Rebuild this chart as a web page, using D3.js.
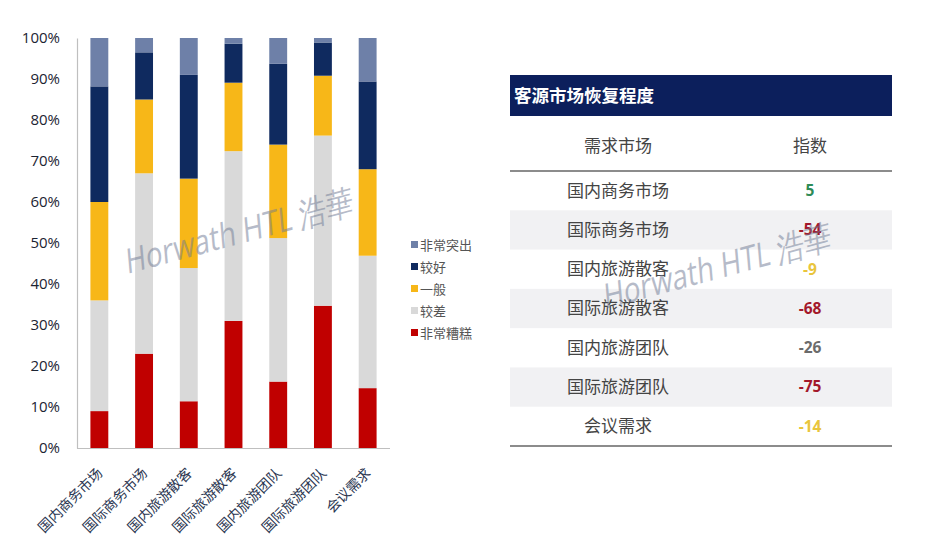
<!DOCTYPE html>
<html><head><meta charset="utf-8">
<script src="https://cdn.jsdelivr.net/npm/d3@7"></script>
<style>body{margin:0;background:#fff;}svg{display:block;}</style>
</head><body>
<script>
const categories = ["国内商务市场","国际商务市场","国内旅游散客","国际旅游散客","国内旅游团队","国际旅游团队","会议需求"];
const seriesNames = ["非常糟糕","较差","一般","较好","非常突出"];
const verybad   = [9, 23, 11.4, 31, 16.2, 34.7, 14.6];
const bad       = [27, 44, 32.5, 41.4, 35, 41.5, 32.3];
const average   = [24, 18, 21.8, 16.7, 22.8, 14.6, 21.1];
const good      = [28.2, 11.5, 25.3, 9.5, 19.7, 8.1, 21.4];
const excellent = [11.8, 3.5, 9, 1.4, 6.3, 1.1, 10.6];
const yTicks = [0,10,20,30,40,50,60,70,80,90,100];
const tableTitle = "客源市场恢复程度";
const tableHeaders = ["需求市场","指数"];
const tableMarkets = ["国内商务市场","国际商务市场","国内旅游散客","国际旅游散客","国内旅游团队","国际旅游团队","会议需求"];
const tableIndex = [5, -54, -9, -68, -26, -75, -14];
const watermarkText = "Horwath HTL 浩華";

const colors = ["#c00000","#d9d9d9","#f7b718","#0f2a5f","#6e80a8"];
const indexColor = v => v > 0 ? "#2e8b57" : (v <= -50 ? "#a3182a" : (v <= -20 ? "#6b6b6b" : "#e9c53c"));

const W = 934, H = 556;
const svg = d3.select("body").append("svg").attr("width", W).attr("height", H);

// ---- bar chart ----
const x = d3.scaleBand().domain(categories).range([77, 390]).paddingInner(0.6).paddingOuter(0.3);
const y = d3.scaleLinear().domain([0,100]).range([448, 38]);

const rows = categories.map((c,i)=>({cat:c, "非常糟糕":verybad[i], "较差":bad[i], "一般":average[i], "较好":good[i], "非常突出":excellent[i]}));
const stack = d3.stack().keys(seriesNames)(rows);

svg.append("g").selectAll("g").data(stack).join("g")
  .attr("fill",(d,i)=>colors[i])
  .selectAll("rect").data(d=>d).join("rect")
  .attr("x", d=>x(d.data.cat))
  .attr("width", x.bandwidth())
  .attr("y", d=>y(Math.min(100,d[1])))
  .attr("height", d=>y(d[0]) - y(Math.min(100,d[1])));

// axes
const yAxis = svg.append("g").attr("transform","translate(77,0)")
  .call(d3.axisLeft(y).tickValues(yTicks).tickFormat(d=>d+"%").tickSize(0).tickPadding(17));
yAxis.select(".domain").attr("stroke","#bfbfbf").attr("stroke-width",1.2);
yAxis.selectAll("text").attr("font-family","'Open Sans', sans-serif").attr("font-size",15).attr("fill","#1c2433");

const xAxis = svg.append("g").attr("transform","translate(0,448)")
  .call(d3.axisBottom(x).tickSize(0).tickSizeOuter(0));
xAxis.select(".domain").attr("stroke","#bfbfbf").attr("stroke-width",1.2).attr("d","M77,0.5H390");
xAxis.selectAll("text")
  .attr("font-family","'Noto Sans CJK SC', sans-serif").attr("font-size",14).attr("fill","#2a3550")
  .attr("text-anchor","end").attr("dy",0)
  .attr("transform","translate(2,24) rotate(-45)");

// legend
const legend = svg.append("g");
const legendOrder = [4,3,2,1,0];
legendOrder.forEach((k,i)=>{
  const yy = 245 + i*22;
  legend.append("rect").attr("x",411).attr("y",yy-4).attr("width",7).attr("height",7).attr("fill",colors[k]);
  legend.append("text").attr("x",420).attr("y",yy).attr("dy","0.35em")
    .attr("font-family","'Noto Sans CJK SC', sans-serif").attr("font-size",13).attr("fill","#555")
    .text(seriesNames[k]);
});

// ---- table ----
const tX0 = 510, tX1 = 892;
const rowY = d3.scaleBand().domain(d3.range(tableMarkets.length)).range([171, 446]);
const colX = d3.scalePoint().domain([0,1]).range([618, 810]);

svg.append("rect").attr("x",tX0).attr("y",75).attr("width",tX1-tX0).attr("height",41).attr("fill","#0c1f5c");
svg.append("text").attr("x",514).attr("y",96).attr("dy","0.35em")
  .attr("font-family","'Noto Sans CJK SC', sans-serif").attr("font-weight","bold").attr("font-size",17.5)
  .attr("fill","#fff").text(tableTitle);

tableHeaders.forEach((h,i)=>{
  svg.append("text").attr("x",colX(i)).attr("y",146).attr("dy","0.35em").attr("text-anchor","middle")
    .attr("font-family","'Noto Sans CJK SC', sans-serif").attr("font-size",17).attr("fill","#444").text(h);
});

const tg = svg.append("g");
tableMarkets.forEach((m,i)=>{
  if (i%2===1) tg.append("rect").attr("x",tX0).attr("y",rowY(i)).attr("width",tX1-tX0).attr("height",rowY.bandwidth()).attr("fill","#f1f1f3");
  const cy = rowY(i) + rowY.bandwidth()/2;
  tg.append("text").attr("x",colX(0)).attr("y",cy).attr("dy","0.35em").attr("text-anchor","middle")
    .attr("font-family","'Noto Sans CJK SC', sans-serif").attr("font-size",17).attr("fill","#444").text(m);
  tg.append("text").attr("x",colX(1)).attr("y",cy).attr("dy","0.35em").attr("text-anchor","middle")
    .attr("font-family","'Open Sans', sans-serif").attr("font-weight","bold").attr("font-size",15.5)
    .attr("fill",indexColor(tableIndex[i])).text(tableIndex[i]);
});
svg.append("line").attr("x1",tX0).attr("x2",tX1).attr("y1",171).attr("y2",171).attr("stroke","#8c8c8c").attr("stroke-width",2);
svg.append("line").attr("x1",tX0).attr("x2",tX1).attr("y1",446).attr("y2",446).attr("stroke","#8c8c8c").attr("stroke-width",2);

// ---- watermarks ----
function watermark(px, py){
  svg.append("text").attr("transform",`translate(${px},${py}) rotate(-15) skewX(-10)`)
    .attr("font-family","'Open Sans', sans-serif").attr("font-size",34).attr("fill","#6f7a94")
    .attr("textLength",235).attr("lengthAdjust","spacingAndGlyphs")
    .attr("opacity",0.5).text(watermarkText);
}
watermark(127, 274);
watermark(605, 309);
</script>
</body></html>
